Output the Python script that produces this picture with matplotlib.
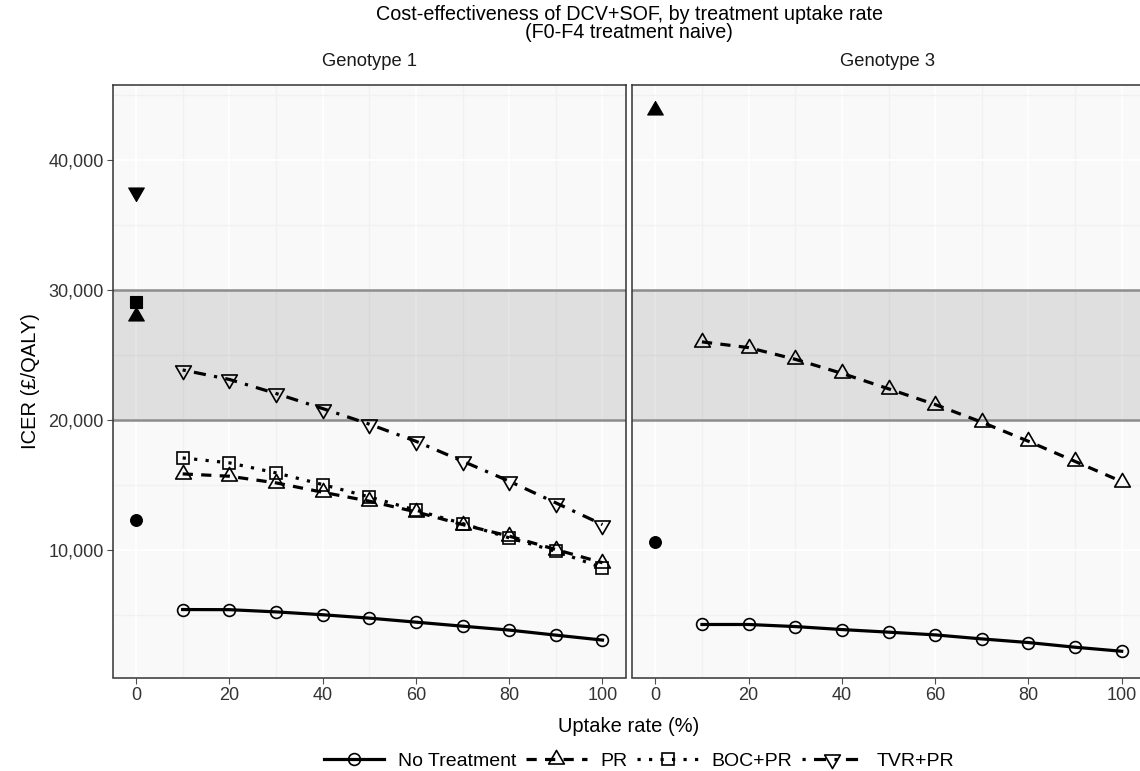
import matplotlib.pyplot as plt
from matplotlib.lines import Line2D
from matplotlib.path import Path
from matplotlib.ticker import FuncFormatter

plt.rcParams['font.family'] = ['Liberation Sans', 'DejaVu Sans']

# uptake rate (%) and ICER values
uptake = [10, 20, 30, 40, 50, 60, 70, 80, 90, 100]

g1_none = [5430, 5420, 5250, 5030, 4770, 4460, 4150, 3850, 3460, 3080]
g1_pr = [15870, 15690, 15180, 14460, 13770, 12950, 11970, 11080, 10050, 9030]
g1_boc = [17100, 16720, 15950, 15050, 14100, 13080, 12050, 10950, 9920, 8640]
g1_tvr = [23870, 23140, 22060, 20900, 19700, 18380, 16850, 15310, 13640, 11970]

g3_none = [4280, 4280, 4120, 3890, 3690, 3480, 3170, 2890, 2530, 2220]
g3_pr = [26030, 25590, 24690, 23610, 22420, 21210, 19850, 18380, 16830, 15280]

# values at 0% uptake (filled symbols)
g1_zero = {'No Treatment': 12310, 'PR': 27990, 'BOC+PR': 29100, 'TVR+PR': 37530}
g3_zero = {'No Treatment': 10640, 'PR': 43900}

band = (20000, 30000)
y_ticks = [10000, 20000, 30000, 40000]
x_ticks = [0, 20, 40, 60, 80, 100]

# equilateral triangles like R's pch 2 / 6
tri_up = Path([(-1, -0.577), (1, -0.577), (0, 1.155), (-1, -0.577)],
              [Path.MOVETO, Path.LINETO, Path.LINETO, Path.CLOSEPOLY])
tri_dn = Path([(-1, 0.577), (1, 0.577), (0, -1.155), (-1, 0.577)],
              [Path.MOVETO, Path.LINETO, Path.LINETO, Path.CLOSEPOLY])

styles = {
    'No Treatment': dict(marker='o', ms=8.5, ls='-'),
    'PR': dict(marker=tri_up, ms=13, ls=(0, (3.2, 2.6))),
    'BOC+PR': dict(marker='s', ms=8.3, ls=(0, (1.0, 2.6))),
    'TVR+PR': dict(marker=tri_dn, ms=13, ls=(0, (1.0, 2.6, 3.8, 2.6))),
}
LW = 2.3

W, H = 1140, 771
fig = plt.figure(figsize=(W / 100, H / 100), dpi=100)


def box(x0, y0, x1, y1):
    return [x0 / W, 1 - y1 / H, (x1 - x0) / W, (y1 - y0) / H]


ax1 = fig.add_axes(box(112.7, 85, 625.8, 677.5))
ax2 = fig.add_axes(box(632, 85, 1145, 677.5))


def draw(ax, series, zero):
    ax.set_facecolor('#f9f9f9')
    ax.set_xlim(-5, 105)
    ax.set_ylim(200, 45800)
    ax.set_xticks(x_ticks)
    ax.set_xticks([10, 30, 50, 70, 90], minor=True)
    ax.set_yticks(y_ticks)
    ax.set_yticks([5000, 15000, 25000, 35000, 45000], minor=True)
    ax.grid(True, which='major', color='white', lw=1.3)
    ax.grid(True, which='minor', color='#f1f1f1', lw=0.9)
    ax.set_axisbelow(True)
    ax.axhspan(band[0], band[1], color='black', alpha=0.1, lw=0, zorder=1)
    for yv in band:
        ax.axhline(yv, color='#8c8c8c', lw=1.8, zorder=1.5)
    for name, vals in series:
        st = styles[name]
        ax.plot(uptake, vals, color='black', lw=LW, ls=st['ls'],
                dash_capstyle='butt', marker=st['marker'], ms=st['ms'],
                mfc='none', mec='black', mew=1.2, zorder=3)
    for name, v in zero.items():
        st = styles[name]
        ax.plot([0], [v], ls='none', marker=st['marker'], ms=st['ms'],
                mfc='black', mec='black', mew=0.8, zorder=3)
    for s in ax.spines.values():
        s.set_color('#333333')
        s.set_linewidth(1.1)
    ax.tick_params(which='minor', length=0)
    ax.tick_params(which='major', length=4, width=0.8, color='#4d4d4d',
                   labelsize=13, labelcolor='#333333', pad=2.5)


draw(ax1, [('No Treatment', g1_none), ('PR', g1_pr), ('BOC+PR', g1_boc),
           ('TVR+PR', g1_tvr)], g1_zero)
draw(ax2, [('No Treatment', g3_none), ('PR', g3_pr)], g3_zero)

ax1.yaxis.set_major_formatter(FuncFormatter(lambda v, p: f'{int(v):,}'))
ax2.tick_params(axis='y', which='major', length=0, labelleft=False)

fig.text(629 / W, 1 - 15 / H, 'Cost-effectiveness of DCV+SOF, by treatment uptake rate',
         ha='center', va='center', fontsize=14.2)
fig.text(629 / W, 1 - 33 / H, '(F0-F4 treatment naive)',
         ha='center', va='center', fontsize=14.2)
fig.text(369 / W, 1 - 62 / H, 'Genotype 1', ha='center', va='center',
         fontsize=13.2, color='#1a1a1a')
fig.text(888 / W, 1 - 62 / H, 'Genotype 3', ha='center', va='center',
         fontsize=13.2, color='#1a1a1a')
fig.text(629 / W, 1 - 727 / H, 'Uptake rate (%)', ha='center', va='center',
         fontsize=14.5)
fig.text(30 / W, 1 - 381 / H, 'ICER (£/QALY)', ha='center', va='center',
         rotation=90, fontsize=14.5)

handles = []
for name, st in styles.items():
    handles.append(Line2D([], [], color='black', lw=LW, ls=st['ls'],
                          dash_capstyle='butt', marker=st['marker'],
                          ms=st['ms'], mfc='none', mec='black', mew=1.2,
                          label=name))
fig.legend(handles=handles, loc='center', bbox_to_anchor=(639 / W, 1 - 761 / H),
           ncol=4, frameon=False, fontsize=14, handlelength=3.1,
           handletextpad=0.72, columnspacing=0.5, borderpad=0)

fig.savefig('out.png', dpi=100)
